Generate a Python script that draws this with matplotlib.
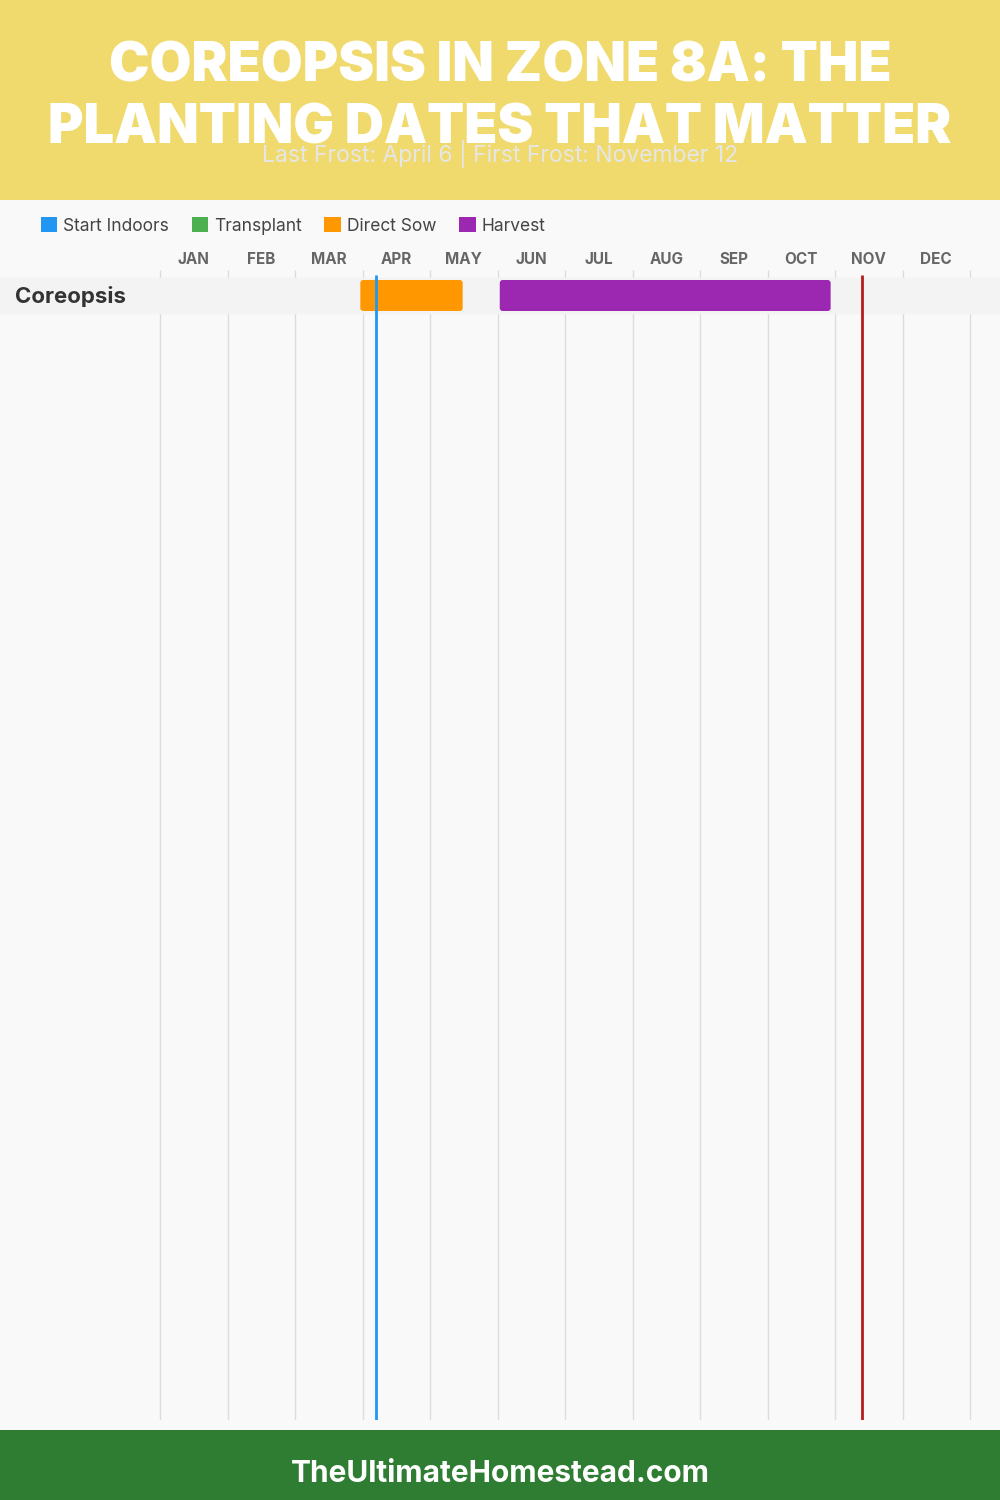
import numpy as np
import matplotlib.pyplot as plt
from matplotlib.patches import FancyBboxPatch, Patch, Rectangle

# -------------------------------
# Planting calendar data
# -------------------------------
months = ['JAN', 'FEB', 'MAR', 'APR', 'MAY', 'JUN',
          'JUL', 'AUG', 'SEP', 'OCT', 'NOV', 'DEC']
days_in_month = [31, 28, 31, 30, 31, 30, 31, 31, 30, 31, 30, 31]

crops = ['Coreopsis']
legend_names = ['Start Indoors', 'Transplant', 'Direct Sow', 'Harvest']
legend_colors = ['#2196F3', '#4CAF50', '#FF9800', '#9C27B0']

# (crop index, activity, start (month, day), end (month, day))
activities = ['Direct Sow', 'Harvest']
act_crop = [0, 0]
act_start = [(3, 30), (6, 1)]
act_end = [(5, 15), (10, 29)]

last_frost = (4, 6)
first_frost = (11, 12)
subtitle = 'Last Frost: April 6 | First Frost: November 12'


def month_pos(md):
    m, d = md
    return (m - 1) + d / days_in_month[m - 1]


# -------------------------------
# Figure layout (pixel based, 1000x1500)
# -------------------------------
W, H = 1000, 1500
fig = plt.figure(figsize=(10, 15), dpi=100)
fig.patch.set_facecolor('#F9F9F9')

FONT = ['Inter', 'DejaVu Sans']

# header and footer bands
fig.patches.append(Rectangle((0, 1 - 200 / H), 1, 200 / H, transform=fig.transFigure,
                             facecolor='#F0DA6E', edgecolor='none', zorder=0))
fig.patches.append(Rectangle((0, 0), 1, 70 / H, transform=fig.transFigure,
                             facecolor='#2E7D32', edgecolor='none', zorder=0))

fig.text(0.5, 1 - 82 / H, 'COREOPSIS IN ZONE 8A: THE', ha='center', va='baseline',
         color='white', fontsize=39, fontweight='black', family=FONT)
fig.text(0.5, 1 - 143 / H, 'PLANTING DATES THAT MATTER', ha='center', va='baseline',
         color='white', fontsize=39, fontweight='black', family=FONT)
fig.text(0.5, 1 - 162 / H, subtitle, ha='center', va='baseline',
         color='#E6E6E6', fontsize=16.5, family=FONT)
fig.text(0.5, 1 - 1482 / H, 'TheUltimateHomestead.com', ha='center', va='baseline',
         color='white', fontsize=21.5, fontweight='bold', family=FONT)

# legend
handles = [Patch(facecolor=c, edgecolor='none', label=n)
           for n, c in zip(legend_names, legend_colors)]
fig.legend(handles=handles, loc='center left', bbox_to_anchor=(25 / W, 1 - 226 / H),
           ncol=4, frameon=False, handlelength=0.95, handleheight=0.95,
           handletextpad=0.35, columnspacing=1.3, labelcolor='#444444',
           prop={'family': FONT, 'size': 12.5})

# -------------------------------
# Chart axes: full width, months scaled so that JAN..DEC spans 160..970 px
# -------------------------------
x0_px, month_px = 160, 67.5
top_px, bot_px = 270, 1420
row_px = 35
row0_center_px = 295.5

ax = fig.add_axes([0, 1 - bot_px / H, 1, (bot_px - top_px) / H])
ax.set_facecolor('none')
ax.set_xlim(-x0_px / month_px, (W - x0_px) / month_px)
n_units = (bot_px - top_px) / row_px
y_top = -(row0_center_px - top_px) / row_px
ax.set_ylim(y_top + n_units, y_top)
for s in ax.spines.values():
    s.set_visible(False)

ax.set_xticks(np.arange(12) + 0.5)
ax.set_xticklabels(months)
ax.xaxis.set_ticks_position('top')
ax.tick_params(axis='x', length=0, pad=2.5, labelsize=11, labelcolor='#666666')
for lbl in ax.get_xticklabels():
    lbl.set_fontweight('bold')
    lbl.set_family(FONT)
ax.set_yticks([])

# month boundary grid
ax.vlines(np.arange(13), y_top + n_units, y_top, color='#DDDDDD', lw=1, zorder=1)

# rows
for i, crop in enumerate(crops):
    ax.axhspan(i - 0.5, i + 0.5, color='#F3F3F3', zorder=2)
    ax.text(-x0_px / month_px + 15 / month_px, i + 0.04, crop, ha='left', va='center',
            fontsize=16, fontweight='bold', color='#333333', family=FONT, zorder=5)

bar_h = 31 / row_px
r = 3 / month_px
aspect = (3 / row_px) / r
for name, ci, s, e in zip(activities, act_crop, act_start, act_end):
    xs, xe = month_pos(s), month_pos(e)
    color = legend_colors[legend_names.index(name)]
    ax.add_patch(FancyBboxPatch((xs, ci - bar_h / 2), xe - xs, bar_h,
                                boxstyle=f'round,pad=0,rounding_size={r}',
                                mutation_aspect=aspect, facecolor=color,
                                edgecolor='none', zorder=3))

# frost lines
frost_top = -0.5 - 3 / row_px
ax.vlines(month_pos(last_frost), y_top + n_units, frost_top, color='#2196F3', lw=2, zorder=4)
ax.vlines(month_pos(first_frost), y_top + n_units, frost_top, color='#B71C1C', lw=2, zorder=4)

plt.savefig('out.png', dpi=100, facecolor=fig.get_facecolor())
